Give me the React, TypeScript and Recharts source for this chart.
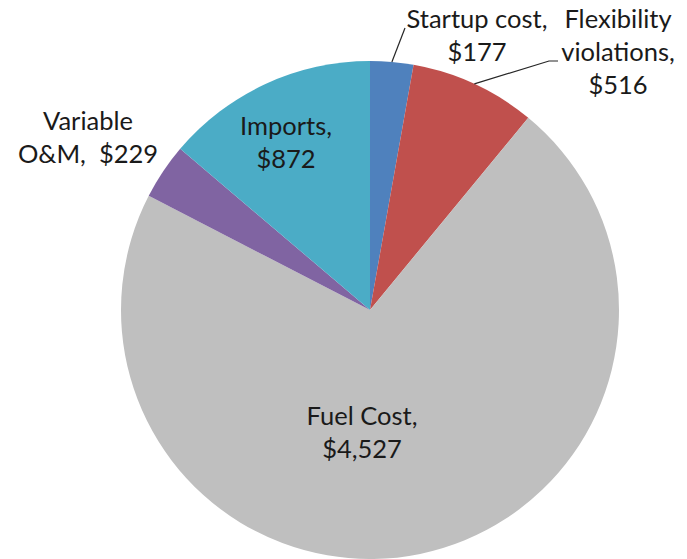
import React from 'react';
import { PieChart, Pie, Cell } from 'recharts';

// Cost components, in slice order (clockwise from 12 o'clock)
const categories = ['Startup cost', 'Flexibility violations', 'Fuel Cost', 'Variable O&M', 'Imports'];
const costs = [177, 516, 4527, 229, 872];
const sliceColors = ['#4F81BD', '#C0504D', '#BFBFBF', '#8064A2', '#4BACC6'];

const data = categories.map((name, i) => ({ name, value: costs[i] }));

const FONT = 'Lato, "Open Sans", sans-serif';
const FONT_SIZE = 25.5;
const LINE_GAP = 33;
const RAD = Math.PI / 180;

// How each label wraps: 'stack' = name, value; 'words' = one word per line, then value;
// 'tail' = first word, then the rest with the value.
type Wrap = 'stack' | 'words' | 'tail';
interface LabelPlace {
  x: number;
  y: number; // baseline of first line
  wrap: Wrap;
  leader?: { x: number; y: number }[];
}

const labelPlaces: LabelPlace[] = [
  { x: 477, y: 28, wrap: 'stack', leader: [{ x: 405, y: 28 }] },
  { x: 618, y: 28, wrap: 'words', leader: [{ x: 549, y: 61 }, { x: 558, y: 61 }] },
  { x: 362, y: 425, wrap: 'stack' },
  { x: 88, y: 130, wrap: 'tail' },
  { x: 286, y: 135, wrap: 'stack' },
];

const money = (v: number) => `$${v.toLocaleString('en-US')}`;

function labelLines(name: string, value: number, wrap: Wrap): string[] {
  if (wrap === 'words') {
    const words = name.split(' ');
    return [...words.slice(0, -1), words[words.length - 1] + ',', money(value)];
  }
  if (wrap === 'tail') {
    const [first, ...rest] = name.split(' ');
    return [first, `${rest.join(' ')},\u00a0 ${money(value)}`];
  }
  return [name + ',', money(value)];
}

const renderLabel = (props: any) => {
  const { cx, cy, midAngle, outerRadius, index, name, value } = props;
  const place = labelPlaces[index];
  const lines = labelLines(name, value, place.wrap);
  const ax = cx + outerRadius * Math.cos(-midAngle * RAD);
  const ay = cy + outerRadius * Math.sin(-midAngle * RAD);
  return (
    <g key={`label-${index}`}>
      {place.leader && (
        <polyline
          points={[{ x: ax, y: ay }, ...place.leader].map((p) => `${p.x},${p.y}`).join(' ')}
          fill="none"
          stroke="#262626"
          strokeWidth={1.2}
        />
      )}
      <text
        x={place.x}
        y={place.y}
        textAnchor="middle"
        fontFamily={FONT}
        fontSize={FONT_SIZE}
        fill="#1a1a1a"
      >
        {lines.map((ln, i) => (
          <tspan key={i} x={place.x} y={place.y + i * LINE_GAP}>
            {ln}
          </tspan>
        ))}
      </text>
    </g>
  );
};

export default function App() {
  return (
    <div style={{ position: 'absolute', left: 0, top: 0, width: 687, height: 559, background: '#fff' }}>
      <PieChart width={687} height={559} margin={{ top: 0, right: 0, bottom: 0, left: 0 }}>
        <Pie
          data={data}
          dataKey="value"
          nameKey="name"
          cx={370}
          cy={310}
          outerRadius={249}
          startAngle={90}
          endAngle={-270}
          stroke="none"
          label={renderLabel}
          labelLine={false}
          isAnimationActive={false}
        >
          {data.map((d, i) => (
            <Cell key={d.name} fill={sliceColors[i]} />
          ))}
        </Pie>
      </PieChart>
    </div>
  );
}
